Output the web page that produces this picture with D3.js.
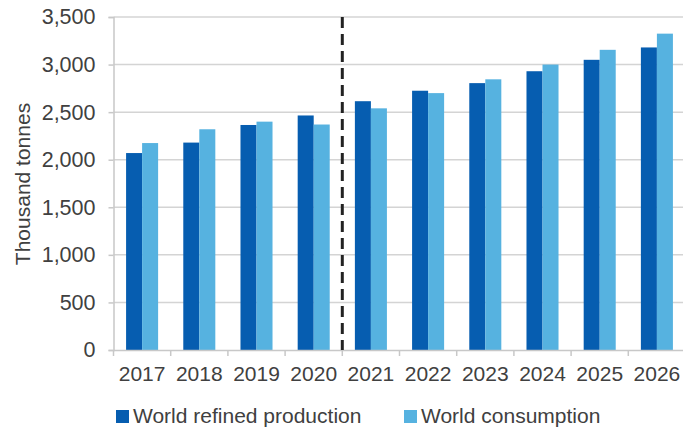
<!DOCTYPE html>
<html>
<head>
<meta charset="utf-8">
<script src="https://cdn.jsdelivr.net/npm/d3@7"></script>
<style>
  body { margin: 0; background: #fff; }
  text { font-family: "Liberation Sans", Arial, sans-serif; fill: #404040; }
</style>
</head>
<body>
<svg id="main-chart"></svg>
<script>
const years = ["2017","2018","2019","2020","2021","2022","2023","2024","2025","2026"];
const production = [2070, 2180, 2365, 2465, 2615, 2725, 2805, 2930, 3050, 3180];
const consumption = [2175, 2320, 2400, 2370, 2540, 2700, 2845, 3000, 3155, 3325];
const seriesNames = ["World refined production", "World consumption"];
const seriesColors = ["#065db0", "#56b2e0"];
const yTicks = [0, 500, 1000, 1500, 2000, 2500, 3000, 3500];
const forecastStart = "2021";

function plotchart()
{
  const width = 683;
  const height = 430;
  const left = 113.5, right = 685.5, top = 17, bottom = 350;
  const fontSize = 21;

  const svg = d3.select("#main-chart")
      .attr("width", width)
      .attr("height", height);

  const x = d3.scaleBand()
    .domain(years)
    .range([left, right])
    .paddingInner(0.44)
    .paddingOuter(0.22);

  const xs = d3.scaleBand()
    .domain([0, 1])
    .range([0, x.bandwidth()]);

  const y = d3.scaleLinear()
    .domain([0, 3500])
    .range([bottom, top]);

  // gridlines
  svg.append("g")
    .selectAll("line")
    .data(yTicks.filter(d => d > 0))
    .join("line")
      .attr("x1", left)
      .attr("x2", width)
      .attr("y1", d => y(d))
      .attr("y2", d => y(d))
      .attr("stroke", "#d4d4d4")
      .attr("stroke-width", 1.5);

  // y axis
  const yAxis = svg.append("g")
      .attr("transform", `translate(${left},0)`)
      .call(d3.axisLeft(y).tickValues(yTicks).tickFormat(d3.format(",")).tickSize(5).tickPadding(13));
  yAxis.select(".domain").attr("stroke", "#c8c8c8").attr("stroke-width", 1.5);
  yAxis.selectAll(".tick line").attr("stroke", "#c8c8c8").attr("stroke-width", 1.5);
  yAxis.selectAll("text").attr("font-size", fontSize + 0.5).attr("fill", "#404040")
      .attr("font-family", "Liberation Sans, Arial, sans-serif");

  // bars
  const rows = years.map((yr, i) => ({year: yr, values: [production[i], consumption[i]]}));
  svg.append("g")
    .selectAll("g")
    .data(rows)
    .join("g")
      .attr("transform", d => `translate(${x(d.year)},0)`)
    .selectAll("rect")
    .data(d => d.values.map((v, k) => ({k, v})))
    .join("rect")
      .attr("x", d => xs(d.k))
      .attr("width", xs.bandwidth())
      .attr("y", d => y(d.v))
      .attr("height", d => y(0) - y(d.v))
      .attr("fill", d => seriesColors[d.k]);

  // x axis
  const xAxis = svg.append("g")
      .attr("transform", `translate(0,${bottom})`)
      .call(d3.axisBottom(x).tickSize(0).tickPadding(16));
  xAxis.select(".domain").attr("stroke", "#c8c8c8").attr("stroke-width", 1.5);
  xAxis.selectAll("text").attr("font-size", fontSize).attr("fill", "#404040")
      .attr("font-family", "Liberation Sans, Arial, sans-serif");
  // category boundary ticks
  const bounds = d3.range(years.length + 1).map(i => left + i * x.step());
  xAxis.selectAll(".bound")
    .data(bounds)
    .join("line")
      .attr("class", "bound")
      .attr("x1", d => d).attr("x2", d => d)
      .attr("y1", 0).attr("y2", 6)
      .attr("stroke", "#c8c8c8")
      .attr("stroke-width", 1.5);

  // forecast divider
  const divX = x(forecastStart) - x.step() * x.paddingInner() / 2;
  svg.append("line")
      .attr("x1", divX).attr("x2", divX)
      .attr("y1", top).attr("y2", bottom)
      .attr("stroke", "#222")
      .attr("stroke-width", 3)
      .attr("stroke-dasharray", "11,6");

  // y title
  svg.append("text")
      .attr("transform", `translate(30,184) rotate(-90)`)
      .attr("text-anchor", "middle")
      .attr("font-size", fontSize)
      .text("Thousand tonnes");

  // legend
  const legendX = [116, 404];
  const legend = svg.append("g")
    .selectAll("g")
    .data(seriesNames)
    .join("g")
      .attr("transform", (d, i) => `translate(${legendX[i]},410)`);
  legend.append("rect")
      .attr("width", 13).attr("height", 13)
      .attr("fill", (d, i) => seriesColors[i]);
  legend.append("text")
      .attr("x", 17).attr("y", 13)
      .attr("font-size", fontSize)
      .text(d => d);
}

plotchart();
</script>
</body>
</html>
